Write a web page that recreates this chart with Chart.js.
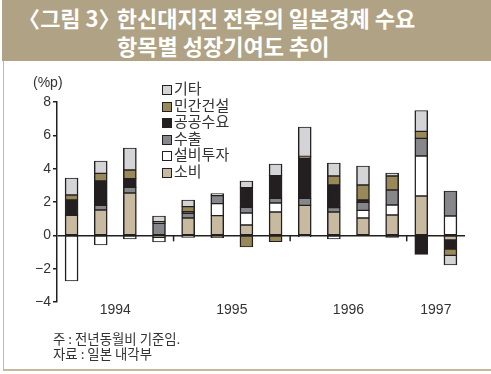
<!DOCTYPE html>
<html>
<head>
<meta charset="utf-8">
<script src="https://cdn.jsdelivr.net/npm/chart.js@4.4.1/dist/chart.umd.min.js"></script>
<style>
  html, body { margin: 0; padding: 0; background: #fff; }
  #wrap { position: relative; width: 491px; height: 374px; overflow: hidden; }
  #chart { position: absolute; left: 0; top: 0; }
  .title-bar { position: absolute; left: 2px; top: 0; width: 489px; height: 61px; background: #b0a284; }
  .title { position: absolute; color: #fff; font: bold 22px "Noto Sans CJK KR", sans-serif; white-space: nowrap; line-height: 26px; }
  .lb { margin-left: -0.45em; }
  .rb { margin-right: -0.4em; }
  .frame-left { position: absolute; left: 3px; top: 61px; width: 1px; height: 309px; background: #c5b89c; }
  .frame-bottom { position: absolute; left: 3px; top: 369px; width: 488px; height: 2px; background: #c5b89c; }
  .unit { position: absolute; left: 33px; top: 74px; font: 14px "Liberation Sans", Arial, sans-serif; color: #333; }
  .note { position: absolute; left: 53px; font: 13.4px "Noto Sans CJK KR", sans-serif; color: #333; white-space: nowrap; }
  #legend { position: absolute; left: 162px; top: 81px; }
  .leg-row { position: absolute; left: 0; height: 16px; white-space: nowrap; font: 15px "Noto Sans CJK KR", sans-serif; color: #333; line-height: 16px; }
  .leg-box { position: absolute; left: 0; top: 4px; width: 8px; height: 8px; border: 1px solid #231f20; }
  .leg-text { position: absolute; left: 12px; top: -1px; }
</style>
</head>
<body>
<div id="wrap">
  <canvas id="chart" width="491" height="374"></canvas>
  <div class="title-bar"></div>
  <div class="title" style="left:28px; top:4px;"><span class="lb">〈</span>그림 3<span class="rb">〉</span> 한신대지진 전후의 일본경제 수요</div>
  <div class="title" style="left:117px; top:32px;">항목별 성장기여도 추이</div>
  <div class="frame-left"></div>
  <div class="frame-bottom"></div>
  <div class="unit">(%p)</div>
  <div id="legend"></div>
  <div class="note" style="top:328px;">주 : 전년동월비 기준임.</div>
  <div class="note" style="top:343px;">자료 : 일본 내각부</div>
</div>
<script>
// 분기 (1994Q1 ~ 1997Q2)
const quarters = ['1994Q1', '1994Q2', '1994Q3', '1994Q4',
                  '1995Q1', '1995Q2', '1995Q3', '1995Q4',
                  '1996Q1', '1996Q2', '1996Q3', '1996Q4',
                  '1997Q1', '1997Q2'];
const years = ['1994', '1995', '1996', '1997'];

// 항목별 성장기여도 (%p)
const sobi      = [1.2, 1.52, 2.54, -0.12, 1.04, 1.18, 0.62, 1.4, 1.8, 1.4, 1.04, 1.22, 2.36, -0.28];
const seolbi    = [-2.74, -0.58, -0.22, -0.28, -0.12, 0.72, 0.72, 0.54, -0.1, -0.22, 0.46, 0.6, 2.4, 1.16];
const suchul    = [null, 0.28, 0.34, 0.72, 0.28, 0.48, 0.34, 0.28, 0.42, 0.26, 0.48, 0.9, 1.06, 1.5];
const gonggong  = [0.92, 1.46, 0.52, null, 0.1, null, 1.18, 1.36, 2.42, 1.36, 0.14, -0.12, -1.14, -0.54];
const mingan    = [0.3, 0.46, 0.52, 0.1, 0.3, -0.14, -0.7, -0.38, 0.1, 0.54, 0.9, 0.84, 0.42, -0.38];
const gita      = [1.02, 0.74, 1.32, 0.34, 0.4, 0.12, 0.4, 0.7, 1.76, 0.78, 1.14, 0.18, 1.24, -0.58];

const seriesNames  = ['소비', '설비투자', '수출', '공공수요', '민간건설', '기타'];
const seriesValues = [sobi, seolbi, suchul, gonggong, mingan, gita];
const seriesColors = ['#c7baa1', '#ffffff', '#86878a', '#231f20', '#998959', '#d4d4d6'];

const yTicks = [-4, -2, 0, 2, 4, 6, 8];
const ink = '#231f20';

// 연도 라벨 위치 = 해당 연도 분기들의 가운데
const yearCenters = years.map(y => {
    const idx = quarters.map((q, i) => q.startsWith(y) ? i : -1).filter(i => i >= 0);
    return (idx[0] + idx[idx.length - 1]) / 2;
});
// 연도 경계 (눈금 표시)
const yearBounds = [];
quarters.forEach((q, i) => {
    if (i > 0 && q.slice(0, 4) !== quarters[i - 1].slice(0, 4)) yearBounds.push(i - 0.5);
});

const datasets = seriesNames.map((name, k) => ({
    label: name,
    data: seriesValues[k].map((v, i) => ({ x: i, y: v })),
    backgroundColor: seriesColors[k],
    borderColor: ink,
    borderWidth: { left: 1.5, right: 1.5, top: 1, bottom: 1 },
    borderSkipped: false,
    barThickness: 13,
    stack: 's'
}));

// 범례 (HTML)
const legend = document.getElementById('legend');
seriesNames.slice().reverse().forEach((name, i) => {
    const k = seriesNames.length - 1 - i;
    const row = document.createElement('div');
    row.className = 'leg-row';
    row.style.top = (i * 16.6) + 'px';
    const box = document.createElement('div');
    box.className = 'leg-box';
    box.style.background = seriesColors[k];
    const txt = document.createElement('span');
    txt.className = 'leg-text';
    txt.textContent = name;
    row.appendChild(box);
    row.appendChild(txt);
    legend.appendChild(row);
});

const yearTicksPlugin = {
    id: 'yearTicks',
    afterDraw(chart) {
        const ctx = chart.ctx;
        const xs = chart.scales.x;
        const y0 = chart.scales.y.getPixelForValue(0);
        ctx.save();
        ctx.strokeStyle = ink;
        ctx.lineWidth = 1.5;
        yearBounds.forEach(b => {
            const x = xs.getPixelForValue(b);
            ctx.beginPath();
            ctx.moveTo(x, y0);
            ctx.lineTo(x, y0 + 6);
            ctx.stroke();
        });
        ctx.restore();
    }
};

new Chart(document.getElementById('chart').getContext('2d'), {
    type: 'bar',
    data: { datasets },
    plugins: [yearTicksPlugin],
    options: {
        responsive: false,
        animation: false,
        layout: { padding: { left: 0, top: 102, right: 26, bottom: 50 } },
        plugins: {
            legend: { display: false },
            tooltip: { enabled: false }
        },
        scales: {
            x: {
                type: 'linear',
                stacked: true,
                offset: false,
                min: -0.5,
                max: quarters.length - 0.5,
                afterBuildTicks: scale => { scale.ticks = yearCenters.map(v => ({ value: v })); },
                afterFit: scale => { scale.height = 22; },
                grid: { display: false, drawTicks: false, offset: false },
                border: { display: false },
                ticks: {
                    padding: 0,
                    autoSkip: false,
                    maxRotation: 0,
                    color: '#333',
                    font: { family: '"Liberation Sans", Arial, sans-serif', size: 14 },
                    callback: v => {
                        const i = yearCenters.indexOf(v);
                        return i >= 0 ? years[i] : '';
                    }
                }
            },
            y: {
                stacked: true,
                min: yTicks[0],
                max: yTicks[yTicks.length - 1],
                afterBuildTicks: scale => { scale.ticks = yTicks.map(v => ({ value: v })); },
                afterFit: scale => { scale.width = 57; },
                border: { display: true, color: ink, width: 1.5 },
                grid: {
                    drawTicks: true,
                    tickLength: 4,
                    tickColor: ink,
                    lineWidth: 1.5,
                    color: c => (c.tick && c.tick.value === 0) ? ink : 'rgba(0,0,0,0)'
                },
                ticks: {
                    padding: 2,
                    color: '#333',
                    font: { family: '"Liberation Sans", Arial, sans-serif', size: 14 },
                    callback: v => v < 0 ? '\u2212' + Math.abs(v) : String(v)
                }
            }
        }
    }
});
</script>
</body>
</html>
